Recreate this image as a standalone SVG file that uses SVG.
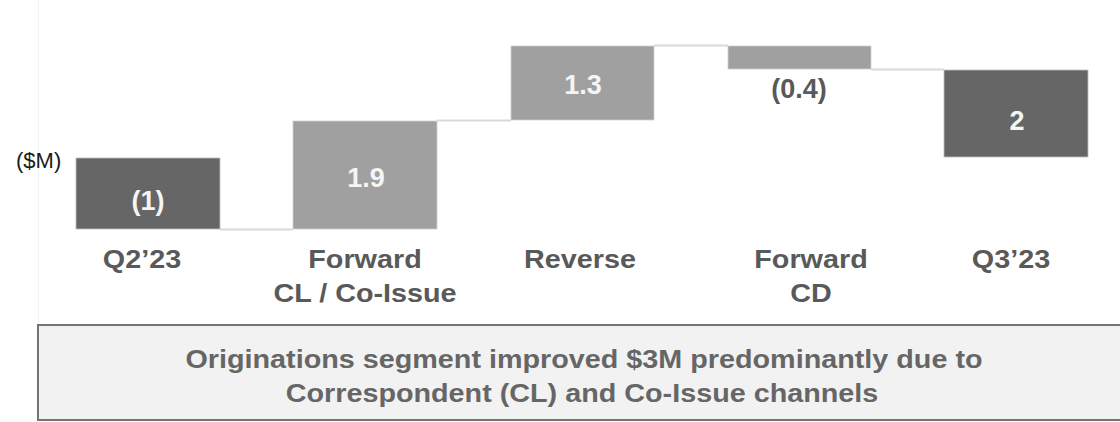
<svg xmlns="http://www.w3.org/2000/svg" width="1120" height="422" viewBox="0 0 1120 422">
  <style>
    .bar-dark { fill: #666666; stroke: #bdbdbd; stroke-width: 0.8; }
    .bar-light { fill: #a0a0a0; stroke: #d0d0d0; stroke-width: 0.8; }
    .val { font-family: "Liberation Sans", Arial, sans-serif; font-weight: bold; font-size: 27px; text-anchor: middle; fill: #f5f5f5; }
    .val-out { fill: #595959; }
    .cat { font-family: "Liberation Sans", Arial, sans-serif; font-weight: bold; font-size: 25px; text-anchor: middle; fill: #595959; }
    .unit { font-family: "Liberation Sans", Arial, sans-serif; font-size: 22px; fill: #1a1a1a; }
    .note { font-family: "Liberation Sans", Arial, sans-serif; font-weight: bold; font-size: 25px; text-anchor: middle; fill: #666666; }
    .link { stroke: #d9d9d9; stroke-width: 2; fill: none; }
  </style>
  <rect width="1120" height="422" fill="#ffffff"/>

  <!-- faint plot-area edge -->
  <line x1="38.5" y1="0" x2="38.5" y2="325" stroke="#f3f3f3" stroke-width="1"/>

  <text class="unit" x="16" y="168">($M)</text>

  <!-- step connectors between bars -->
  <g id="connectors">
    <line class="link" x1="220" y1="229.5" x2="293" y2="229.5"/>
    <line class="link" x1="437" y1="120.5" x2="511" y2="120.5"/>
    <line class="link" x1="654" y1="45.5" x2="728" y2="45.5"/>
    <line class="link" x1="871" y1="69.5" x2="944" y2="69.5"/>
  </g>

  <g id="bar-q2">
    <rect class="bar-dark" x="76" y="158" width="144" height="71"/>
    <text class="val" x="148" y="210">(1)</text>
    <text class="cat" transform="translate(142,268) scale(1.15,1)" x="0" y="0">Q2’23</text>
  </g>

  <g id="bar-forward-cl">
    <rect class="bar-light" x="293" y="121" width="144" height="108"/>
    <text class="val" x="366" y="187">1.9</text>
    <text class="cat" transform="translate(365,268) scale(1.15,1)" x="0" y="0">Forward</text>
    <text class="cat" transform="translate(365,302) scale(1.15,1)" x="0" y="0">CL / Co-Issue</text>
  </g>

  <g id="bar-reverse">
    <rect class="bar-light" x="511" y="46" width="143" height="74"/>
    <text class="val" x="583" y="94">1.3</text>
    <text class="cat" transform="translate(580,268) scale(1.15,1)" x="0" y="0">Reverse</text>
  </g>

  <g id="bar-forward-cd">
    <rect class="bar-light" x="728" y="46" width="143" height="23"/>
    <text class="val val-out" x="799" y="98">(0.4)</text>
    <text class="cat" transform="translate(811,268) scale(1.15,1)" x="0" y="0">Forward</text>
    <text class="cat" transform="translate(811,302) scale(1.15,1)" x="0" y="0">CD</text>
  </g>

  <g id="bar-q3">
    <rect class="bar-dark" x="944" y="70" width="144" height="87"/>
    <text class="val" x="1017" y="130">2</text>
    <text class="cat" transform="translate(1011,268) scale(1.15,1)" x="0" y="0">Q3’23</text>
  </g>

  <g id="summary">
    <rect x="38" y="325" width="1090" height="95" fill="#f2f2f2" stroke="#737373" stroke-width="2"/>
    <text class="note" transform="translate(584,368) scale(1.15,1)" x="0" y="0">Originations segment improved $3M predominantly due to</text>
    <text class="note" transform="translate(582,402) scale(1.15,1)" x="0" y="0">Correspondent (CL) and Co-Issue channels</text>
  </g>
</svg>
